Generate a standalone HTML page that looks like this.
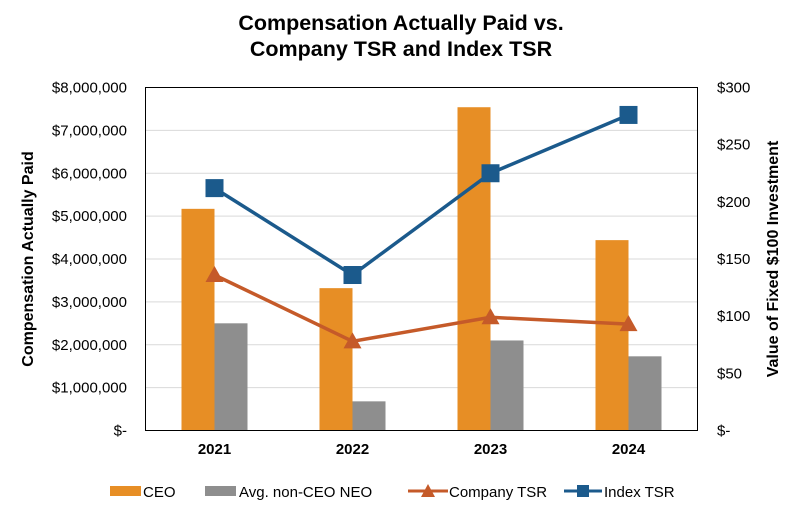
<!DOCTYPE html>
<html><head><meta charset="utf-8"><style>
body{margin:0;background:#fff;font-family:"Liberation Sans",Arial,sans-serif;}
svg text{font-family:"Liberation Sans",Arial,sans-serif;}
</style></head><body>
<svg id="chart" width="800" height="514">
<text x="401" y="30" text-anchor="middle" font-size="21.5" font-weight="bold">Compensation Actually Paid vs.</text>
<text x="401" y="56" text-anchor="middle" font-size="21.5" font-weight="bold">Company TSR and Index TSR</text>
<g id="grid"></g><g id="bars"></g><g id="lines"></g><g id="axes"></g>
<rect x="145.5" y="87.5" width="552" height="343" fill="none" stroke="#000" stroke-width="1"/>
<text transform="translate(33,259) rotate(-90)" text-anchor="middle" font-size="16" font-weight="bold">Compensation Actually Paid</text>
<text transform="translate(778,259) rotate(-90)" text-anchor="middle" font-size="16" font-weight="bold">Value of Fixed $100 Investment</text>
<g font-size="15">
<g><rect x="110" y="486" width="31" height="10" fill="#E78E25"/><text x="143" y="497">CEO</text></g>
<g><rect x="205" y="486" width="31" height="10" fill="#8E8E8E"/><text x="239" y="497">Avg. non-CEO NEO</text></g>
<g><line x1="408" y1="491" x2="448" y2="491" stroke="#C55A29" stroke-width="3"/><polygon points="428,484 435,497 421,497" fill="#C55A29"/><text x="449" y="497">Company TSR</text></g>
<g><line x1="564" y1="491" x2="602" y2="491" stroke="#1B5A8C" stroke-width="3"/><rect x="577" y="485" width="12" height="12" fill="#1B5A8C"/><text x="604" y="497">Index TSR</text></g>
</g>
</svg>
<script>
const categories=["2021","2022","2023","2024"];
const ceo=[5170000,3320000,7540000,4440000];
const neo=[2500000,680000,2100000,1730000];
const companyTSR=[136,78,99,93];
const indexTSR=[212,136,225,276];
const leftTicks=[0,1000000,2000000,3000000,4000000,5000000,6000000,7000000,8000000];
const leftTickLabels=["$-","$1,000,000","$2,000,000","$3,000,000","$4,000,000","$5,000,000","$6,000,000","$7,000,000","$8,000,000"];
const rightTicks=[0,50,100,150,200,250,300];
const rightTickLabels=["$-","$50","$100","$150","$200","$250","$300"];
const NS="http://www.w3.org/2000/svg";
const L=145.5,R=697.5,T=87.5,B=430.5;
const yL=v=>B-(v/8000000)*(B-T);
const yR=v=>B-(v/300)*(B-T);
const xC=i=>L+(i+0.5)*(R-L)/categories.length;
function mk(tag,attrs,parent){const e=document.createElementNS(NS,tag);for(const k in attrs)e.setAttribute(k,attrs[k]);document.getElementById(parent).appendChild(e);return e;}
leftTicks.forEach((t,i)=>{
 if(i>0&&i<leftTicks.length-1){const g=mk('line',{x1:L,x2:R,y1:yL(t),y2:yL(t),stroke:'#d9d9d9','stroke-width':1},'grid');
 
 }
 const tx=mk('text',{x:127,y:yL(t)+5,'text-anchor':'end','font-size':15},'axes');tx.textContent=leftTickLabels[i];
 
 
});
rightTicks.forEach((t,i)=>{
 const tx=mk('text',{x:717,y:yR(t)+5,'font-size':15},'axes');tx.textContent=rightTickLabels[i];
 
 
});
const bw=33;
categories.forEach((c,i)=>{
 const x=xC(i);
 const b1=mk('rect',{x:x-bw,y:yL(ceo[i]),width:bw,height:B-yL(ceo[i]),fill:'#E78E25'},'bars');
 
 
 const b2=mk('rect',{x:x,y:yL(neo[i]),width:bw,height:B-yL(neo[i]),fill:'#8E8E8E'},'bars');
 
 
 const tx=mk('text',{x:x,y:454,'text-anchor':'middle','font-size':15,'font-weight':'bold'},'axes');tx.textContent=c;
 
 
});
const p1=mk('polyline',{points:companyTSR.map((v,i)=>xC(i)+','+yR(v)).join(' '),fill:'none',stroke:'#C55A29','stroke-width':3.5},'lines');


const p2=mk('polyline',{points:indexTSR.map((v,i)=>xC(i)+','+yR(v)).join(' '),fill:'none',stroke:'#1B5A8C','stroke-width':3.5},'lines');


companyTSR.forEach((v,i)=>{const x=xC(i),y=yR(v);
 const m=mk('polygon',{points:`${x},${y-9} ${x+9},${y+7} ${x-9},${y+7}`,fill:'#C55A29'},'lines');
 
 });
indexTSR.forEach((v,i)=>{const x=xC(i),y=yR(v);
 const m=mk('rect',{x:x-9,y:y-9,width:18,height:18,fill:'#1B5A8C'},'lines');
 
 });
</script>
</body></html>
